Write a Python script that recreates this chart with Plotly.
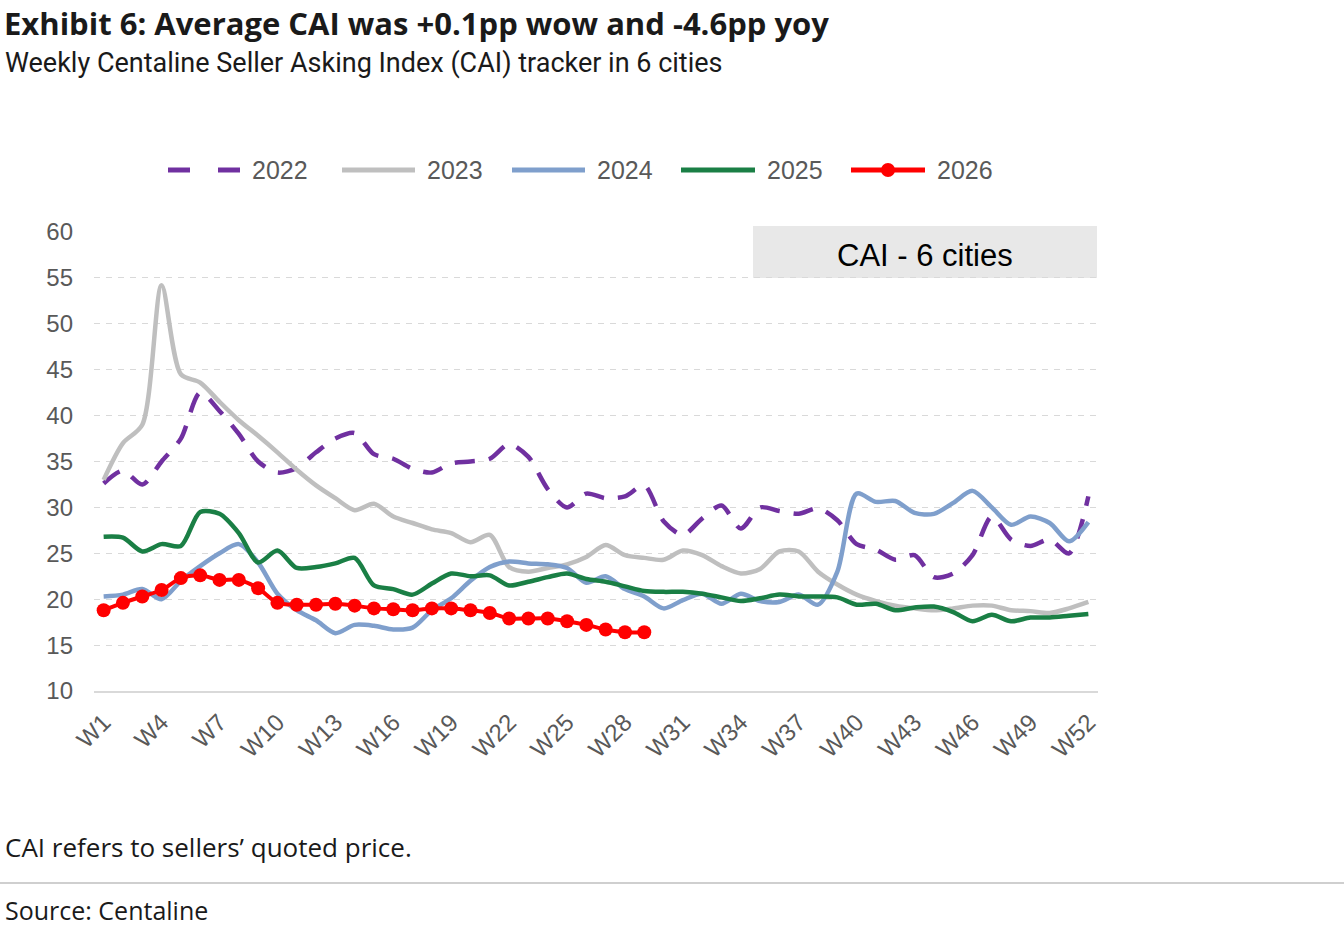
import plotly.graph_objects as go

weeks = [f"W{i}" for i in range(1, 53)]
tick_labels = [f"W{i}" for i in range(1, 53, 3)]

y2022 = [32.6, 34.0, 32.5, 35.0, 37.5, 42.5, 40.5, 38.0, 35.0, 33.8,
         34.3, 36.0, 37.5, 38.1, 35.8, 35.3, 34.2, 33.8, 34.8, 35.0,
         35.3, 36.9, 35.5, 32.0, 30.0, 31.5, 31.0, 31.2, 32.4, 28.5,
         27.0, 28.8, 30.2, 27.7, 30.0, 29.6, 29.3, 29.9, 28.6, 26.0,
         25.4, 24.3, 24.8, 22.4, 22.8, 24.8, 29.0, 26.5, 25.8, 26.5,
         25.0, 31.2]
y2023 = [33.0, 37.0, 39.0, 54.2, 44.5, 43.6, 41.5, 39.5, 37.8, 36.0,
         34.1, 32.4, 31.0, 29.7, 30.4, 29.0, 28.3, 27.6, 27.2, 26.2,
         27.0, 23.5, 23.0, 23.4, 23.8, 24.6, 25.9, 24.8, 24.5, 24.3,
         25.3, 24.8, 23.6, 22.8, 23.3, 25.2, 25.2, 23.0, 21.6, 20.5,
         19.8, 19.3, 19.0, 18.8, 19.0, 19.3, 19.3, 18.8, 18.7, 18.5,
         19.0, 19.7]
y2024 = [20.3, 20.5, 21.1, 20.0, 22.0, 23.6, 25.0, 26.0, 24.0, 20.6,
         18.8, 17.7, 16.3, 17.2, 17.1, 16.7, 16.9, 18.8, 20.1, 22.0,
         23.5, 24.1, 23.9, 23.8, 23.4, 21.8, 22.5, 21.1, 20.3, 19.0,
         19.9, 20.6, 19.5, 20.6, 19.8, 19.7, 20.5, 19.4, 23.0, 31.5,
         30.6, 30.7, 29.4, 29.3, 30.5, 31.8, 30.0, 28.1, 29.0, 28.3,
         26.3, 28.4]
y2025 = [26.8, 26.7, 25.2, 26.0, 25.8, 29.5, 29.3, 27.2, 24.0, 25.3,
         23.4, 23.5, 23.9, 24.5, 21.5, 21.1, 20.5, 21.7, 22.8, 22.5,
         22.6, 21.5, 21.9, 22.4, 22.8, 22.2, 21.9, 21.4, 20.9, 20.8,
         20.8, 20.6, 20.2, 19.8, 20.1, 20.5, 20.3, 20.3, 20.2, 19.4,
         19.5, 18.8, 19.1, 19.2, 18.6, 17.6, 18.3, 17.6, 18.0, 18.0,
         18.2, 18.4]
y2026 = [18.8, 19.6, 20.3, 21.0, 22.3, 22.6, 22.1, 22.1, 21.2, 19.6,
         19.4, 19.4, 19.5, 19.3, 19.0, 18.9, 18.8, 19.0, 19.0, 18.8,
         18.5, 17.9, 17.9, 17.9, 17.6, 17.2, 16.7, 16.4, 16.4]

C22 = "#7030A0"
C23 = "#BFBFBF"
C24 = "#7F9FCC"
C25 = "#1A7F45"
C26 = "#FF0000"
TXT = "#595959"

W, H = 1344, 928
L, R, T, B = 94, 246, 232, 237
PW = W - L - R
PH = H - T - B
BOT = H - B


def px(x):
    return (x - L) / PW


def py(y):
    return (BOT - y) / PH


fig = go.Figure()
common = dict(mode="lines", line_shape="spline", hoverinfo="skip", showlegend=False)
fig.add_trace(go.Scatter(x=weeks, y=y2022, line=dict(color=C22, width=4.5, dash="20px,14px", smoothing=0.8), **common))
fig.add_trace(go.Scatter(x=weeks, y=y2023, line=dict(color=C23, width=4.5, smoothing=0.8), **common))
fig.add_trace(go.Scatter(x=weeks, y=y2024, line=dict(color=C24, width=4.5, smoothing=0.8), **common))
fig.add_trace(go.Scatter(x=weeks, y=y2025, line=dict(color=C25, width=4.5, smoothing=0.8), **common))
fig.add_trace(go.Scatter(x=weeks[:len(y2026)], y=y2026, mode="lines+markers", line_shape="spline",
                         line=dict(color=C26, width=4, smoothing=0.8),
                         marker=dict(color=C26, size=14), hoverinfo="skip", showlegend=False))

shapes = []
annotations = []

# CAI box
shapes.append(dict(type="rect", xref="paper", yref="paper", x0=px(753), x1=px(1097), y0=py(278), y1=py(226),
                   fillcolor="#E8E8E8", line=dict(width=0), layer="below"))
annotations.append(dict(xref="paper", yref="paper", x=px(925), y=py(255), text="CAI - 6 cities",
                        showarrow=False, xanchor="center", yanchor="middle",
                        font=dict(family="Liberation Sans, Arial", size=31, color="#000000")))

# Legend
leg_y = 170
items = [(168, 240, C22, "2022", True, False), (342, 415, C23, "2023", False, False),
         (512, 585, C24, "2024", False, False), (681, 755, C25, "2025", False, False),
         (851, 925, C26, "2026", False, True)]
for x0, x1, col, lab, dashed, mark in items:
    if dashed:
        shapes.append(dict(type="line", xref="paper", yref="paper", x0=px(x0), x1=px(x0 + 22), y0=py(leg_y), y1=py(leg_y),
                           line=dict(color=col, width=5)))
        shapes.append(dict(type="line", xref="paper", yref="paper", x0=px(x1 - 22), x1=px(x1), y0=py(leg_y), y1=py(leg_y),
                           line=dict(color=col, width=5)))
    else:
        shapes.append(dict(type="line", xref="paper", yref="paper", x0=px(x0), x1=px(x1), y0=py(leg_y), y1=py(leg_y),
                           line=dict(color=col, width=5)))
    if mark:
        cx = (x0 + x1) / 2
        shapes.append(dict(type="circle", xref="paper", yref="paper", x0=px(cx - 7), x1=px(cx + 7),
                           y0=py(leg_y + 7), y1=py(leg_y - 7), fillcolor=col, line=dict(width=0)))
    annotations.append(dict(xref="paper", yref="paper", x=px(x1 + 10), y=py(leg_y), text=lab, showarrow=False,
                            xanchor="left", yanchor="middle",
                            font=dict(family="Liberation Sans, Arial", size=25, color=TXT)))

# Titles
annotations.append(dict(xref="paper", yref="paper", x=px(3), y=py(1), text="<b>Exhibit 6: Average CAI was +0.1pp wow and -4.6pp yoy</b>",
                        showarrow=False, xanchor="left", yanchor="top", borderpad=0,
                        font=dict(family="Open Sans", size=31, color="#1A1A1A")))
annotations.append(dict(xref="paper", yref="paper", x=px(3), y=py(63), text="Weekly Centaline Seller Asking Index (CAI) tracker in 6 cities",
                        showarrow=False, xanchor="left", yanchor="middle",
                        font=dict(family="Roboto", size=27, color="#1A1A1A")))
annotations.append(dict(xref="paper", yref="paper", x=px(3), y=py(847), text="CAI refers to sellers\u2019 quoted price.",
                        showarrow=False, xanchor="left", yanchor="middle",
                        font=dict(family="Open Sans", size=26, color="#1A1A1A")))
annotations.append(dict(xref="paper", yref="paper", x=px(3), y=py(910), text="Source: Centaline",
                        showarrow=False, xanchor="left", yanchor="middle",
                        font=dict(family="Open Sans", size=25, color="#1A1A1A")))
shapes.append(dict(type="line", xref="paper", yref="paper", x0=px(0), x1=px(W), y0=py(883), y1=py(883),
                   line=dict(color="#A0A0A0", width=1.2)))

fig.update_layout(
    width=W, height=H,
    margin=dict(l=L, r=R, t=T, b=B),
    paper_bgcolor="white", plot_bgcolor="white",
    shapes=shapes, annotations=annotations,
    xaxis=dict(type="category", range=[-0.5, 51.5], tickmode="array", tickvals=tick_labels, ticktext=tick_labels,
               tickangle=-45, showgrid=False, zeroline=False, showline=True, linecolor="#D9D9D9", linewidth=1.5,
               ticks="", tickfont=dict(family="Liberation Sans, Arial", size=24, color=TXT), ticklabelstandoff=6),
    yaxis=dict(range=[10, 60], tickmode="array", tickvals=[10, 15, 20, 25, 30, 35, 40, 45, 50, 55, 60],
               showgrid=True, gridcolor="#D9D9D9", griddash="6px,6px", gridwidth=1, zeroline=False,
               ticks="", tickfont=dict(family="Liberation Sans, Arial", size=24, color=TXT), ticklabelstandoff=20),
)

fig.write_html("out.html")
